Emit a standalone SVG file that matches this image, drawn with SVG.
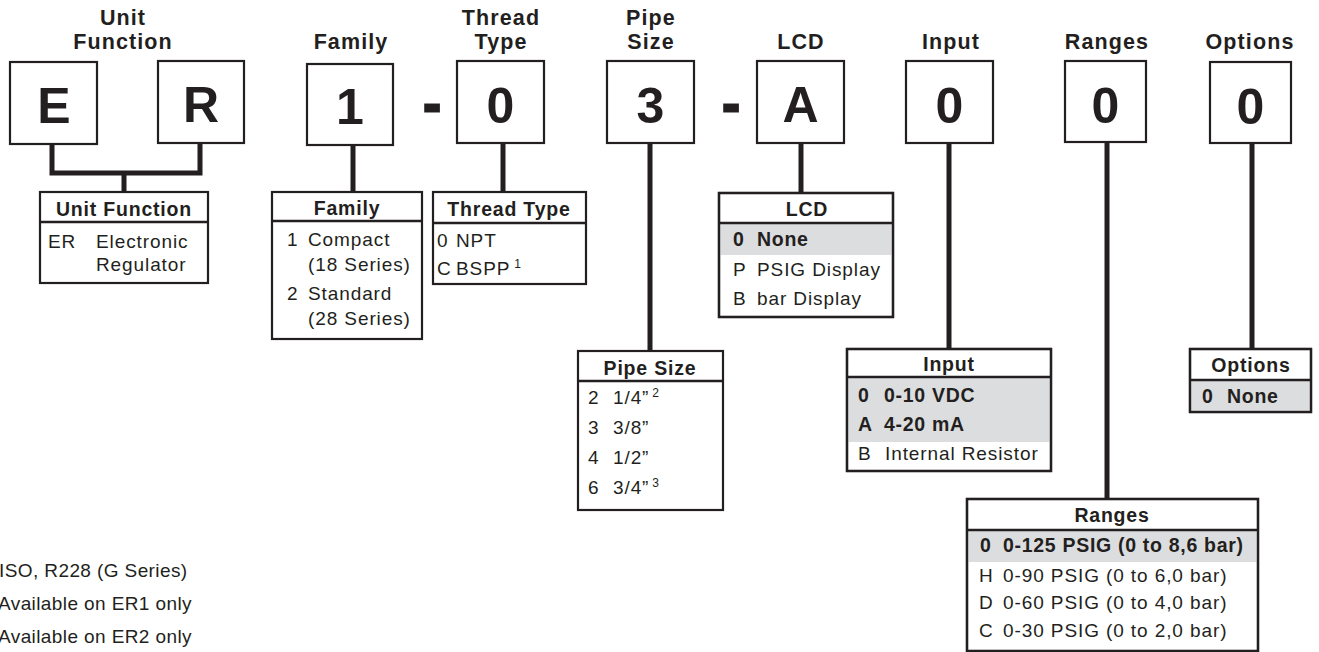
<svg xmlns="http://www.w3.org/2000/svg" width="1319" height="652" viewBox="0 0 1319 652">
<style>
text{font-family:"Liberation Sans",Arial,sans-serif;fill:#231f20}
.lbl{font-weight:bold;font-size:21.5px;letter-spacing:1.1px;text-anchor:middle}
.big{font-weight:bold;font-size:50px;text-anchor:middle}
.dash{font-weight:bold;font-size:50px;text-anchor:middle;stroke:#231f20;stroke-width:3}
.hd{font-weight:bold;font-size:19.5px;letter-spacing:0.8px;text-anchor:middle}
.t{font-size:19px;letter-spacing:0.9px}
.b{font-weight:bold;font-size:19.5px;letter-spacing:0.7px}
.sup{font-size:12px;letter-spacing:0}
.fn{font-size:19px;letter-spacing:0.4px}
.box{fill:#fff;stroke:#231f20;stroke-width:2.2}
.frame{fill:none;stroke:#231f20;stroke-width:2.4}
.gray{fill:#dcdddf}
.conn{stroke:#231f20;stroke-width:5;fill:none}
</style>

<g id="connectors">
<path class="conn" d="M52,144 V173 H200 V143 M124,173 V192"/>
<path class="conn" d="M353,145 V192"/>
<path class="conn" d="M503,143 V192"/>
<path class="conn" d="M650,143 V351"/>
<path class="conn" d="M801,143 V194"/>
<path class="conn" d="M949,143 V349"/>
<path class="conn" d="M1107,142 V499"/>
<path class="conn" d="M1252,143 V349"/>
</g>

<g id="code-unit-function">
<text class="lbl" x="123" y="25">Unit</text>
<text class="lbl" x="123" y="49">Function</text>
<rect class="box" x="10" y="62" width="87" height="82"/>
<text class="big" x="54" y="123">E</text>
<rect class="box" x="158" y="61" width="86" height="82"/>
<text class="big" x="201" y="122">R</text>
</g>

<g id="code-family">
<text class="lbl" x="351" y="49">Family</text>
<rect class="box" x="307" y="64" width="86" height="81"/>
<text class="big" x="350" y="124">1</text>
</g>

<g id="dash1"><text class="dash" x="432" y="121">-</text></g>

<g id="code-thread">
<text class="lbl" x="501" y="25">Thread</text>
<text class="lbl" x="501" y="49">Type</text>
<rect class="box" x="457" y="61" width="87" height="82"/>
<text class="big" x="500.5" y="123">0</text>
</g>

<g id="code-pipe">
<text class="lbl" x="651" y="25">Pipe</text>
<text class="lbl" x="651" y="49">Size</text>
<rect class="box" x="607" y="61" width="87" height="82"/>
<text class="big" x="650.5" y="123">3</text>
</g>

<g id="dash2"><text class="dash" x="731" y="121">-</text></g>

<g id="code-lcd">
<text class="lbl" x="801" y="49">LCD</text>
<rect class="box" x="757" y="61" width="87" height="82"/>
<text class="big" x="800.5" y="122">A</text>
</g>

<g id="code-input">
<text class="lbl" x="951" y="49">Input</text>
<rect class="box" x="906" y="61" width="87" height="82"/>
<text class="big" x="949.5" y="123">0</text>
</g>

<g id="code-ranges">
<text class="lbl" x="1107" y="49">Ranges</text>
<rect class="box" x="1065" y="61" width="81" height="81"/>
<text class="big" x="1105.5" y="123">0</text>
</g>

<g id="code-options">
<text class="lbl" x="1250" y="49">Options</text>
<rect class="box" x="1210" y="62" width="81" height="81"/>
<text class="big" x="1250.5" y="124">0</text>
</g>

<g id="table-unit-function">
<rect class="box" x="40" y="192" width="168" height="91"/>
<line class="frame" x1="40" y1="222" x2="208" y2="222"/>
<text class="hd" x="124" y="216">Unit Function</text>
<text class="t" x="48" y="248">ER</text>
<text class="t" x="96" y="248">Electronic</text>
<text class="t" x="96" y="271">Regulator</text>
</g>

<g id="table-family">
<rect class="box" x="272" y="192" width="150" height="147"/>
<line class="frame" x1="272" y1="221" x2="422" y2="221"/>
<text class="hd" x="347" y="215">Family</text>
<text class="t" x="287" y="246">1</text>
<text class="t" x="308" y="246">Compact</text>
<text class="t" x="308" y="271">(18 Series)</text>
<text class="t" x="287" y="300">2</text>
<text class="t" x="308" y="300">Standard</text>
<text class="t" x="308" y="325">(28 Series)</text>
</g>

<g id="table-thread-type">
<rect class="box" x="433" y="192" width="153" height="92"/>
<line class="frame" x1="433" y1="223" x2="586" y2="223"/>
<text class="hd" x="509" y="216">Thread Type</text>
<text class="t" x="437" y="247">0</text>
<text class="t" x="456" y="247">NPT</text>
<text class="t" x="437" y="275">C</text>
<text class="t" x="456" y="275">BSPP<tspan class="sup" dx="4" dy="-7">1</tspan></text>
</g>

<g id="table-lcd">
<rect class="box" x="719" y="193" width="174" height="124"/>
<rect class="gray" x="720" y="223" width="172" height="32"/>
<line class="frame" x1="719" y1="223" x2="893" y2="223"/>
<rect class="frame" x="719" y="193" width="174" height="124"/>
<text class="hd" x="807" y="216">LCD</text>
<text class="b" x="733" y="246">0</text>
<text class="b" x="757" y="246">None</text>
<text class="t" x="733" y="276">P</text>
<text class="t" x="757" y="276">PSIG  Display</text>
<text class="t" x="733" y="305">B</text>
<text class="t" x="757" y="305">bar Display</text>
</g>

<g id="table-pipe-size">
<rect class="box" x="578" y="351" width="145" height="159"/>
<line class="frame" x1="578" y1="381" x2="723" y2="381"/>
<text class="hd" x="650" y="375">Pipe Size</text>
<text class="t" x="588" y="404">2</text>
<text class="t" x="613" y="404">1/4”<tspan class="sup" dx="3" dy="-7">2</tspan></text>
<text class="t" x="588" y="434">3</text>
<text class="t" x="613" y="434">3/8”</text>
<text class="t" x="588" y="464">4</text>
<text class="t" x="613" y="464">1/2”</text>
<text class="t" x="588" y="494">6</text>
<text class="t" x="613" y="494">3/4”<tspan class="sup" dx="3" dy="-7">3</tspan></text>
</g>

<g id="table-input">
<rect class="box" x="847" y="349" width="204" height="122"/>
<rect class="gray" x="848" y="377" width="202" height="65"/>
<line class="frame" x1="847" y1="377" x2="1051" y2="377"/>
<rect class="frame" x="847" y="349" width="204" height="122"/>
<text class="hd" x="949" y="371">Input</text>
<text class="b" x="858" y="402">0</text>
<text class="b" x="884" y="402">0-10 VDC</text>
<text class="b" x="858" y="431">A</text>
<text class="b" x="884" y="431">4-20 mA</text>
<text class="t" x="858" y="460">B</text>
<text class="t" x="885" y="460">Internal Resistor</text>
</g>

<g id="table-options">
<rect class="box" x="1190" y="349" width="121" height="63"/>
<rect class="gray" x="1191" y="380" width="119" height="31"/>
<line class="frame" x1="1190" y1="380" x2="1311" y2="380"/>
<rect class="frame" x="1190" y="349" width="121" height="63"/>
<text class="hd" x="1251" y="372">Options</text>
<text class="b" x="1202" y="403">0</text>
<text class="b" x="1227" y="403">None</text>
</g>

<g id="table-ranges">
<rect class="box" x="967" y="499" width="291" height="152"/>
<rect class="gray" x="968" y="530" width="289" height="32"/>
<line class="frame" x1="967" y1="530" x2="1258" y2="530"/>
<rect class="frame" x="967" y="499" width="291" height="152"/>
<text class="hd" x="1112" y="522">Ranges</text>
<text class="b" x="980" y="552">0</text>
<text class="b" x="1003" y="552">0-125 PSIG (0 to 8,6 bar)</text>
<text class="t" x="979" y="582">H</text>
<text class="t" x="1003" y="582">0-90 PSIG (0 to 6,0 bar)</text>
<text class="t" x="979" y="609">D</text>
<text class="t" x="1003" y="609">0-60 PSIG (0 to 4,0 bar)</text>
<text class="t" x="979" y="637">C</text>
<text class="t" x="1003" y="637">0-30 PSIG (0 to 2,0 bar)</text>
</g>

<g id="footnotes">
<text class="fn" x="-1" y="577">ISO, R228 (G Series)</text>
<text class="fn" x="-2" y="610">Available on ER1 only</text>
<text class="fn" x="-2" y="643">Available on ER2 only</text>
</g>
</svg>
